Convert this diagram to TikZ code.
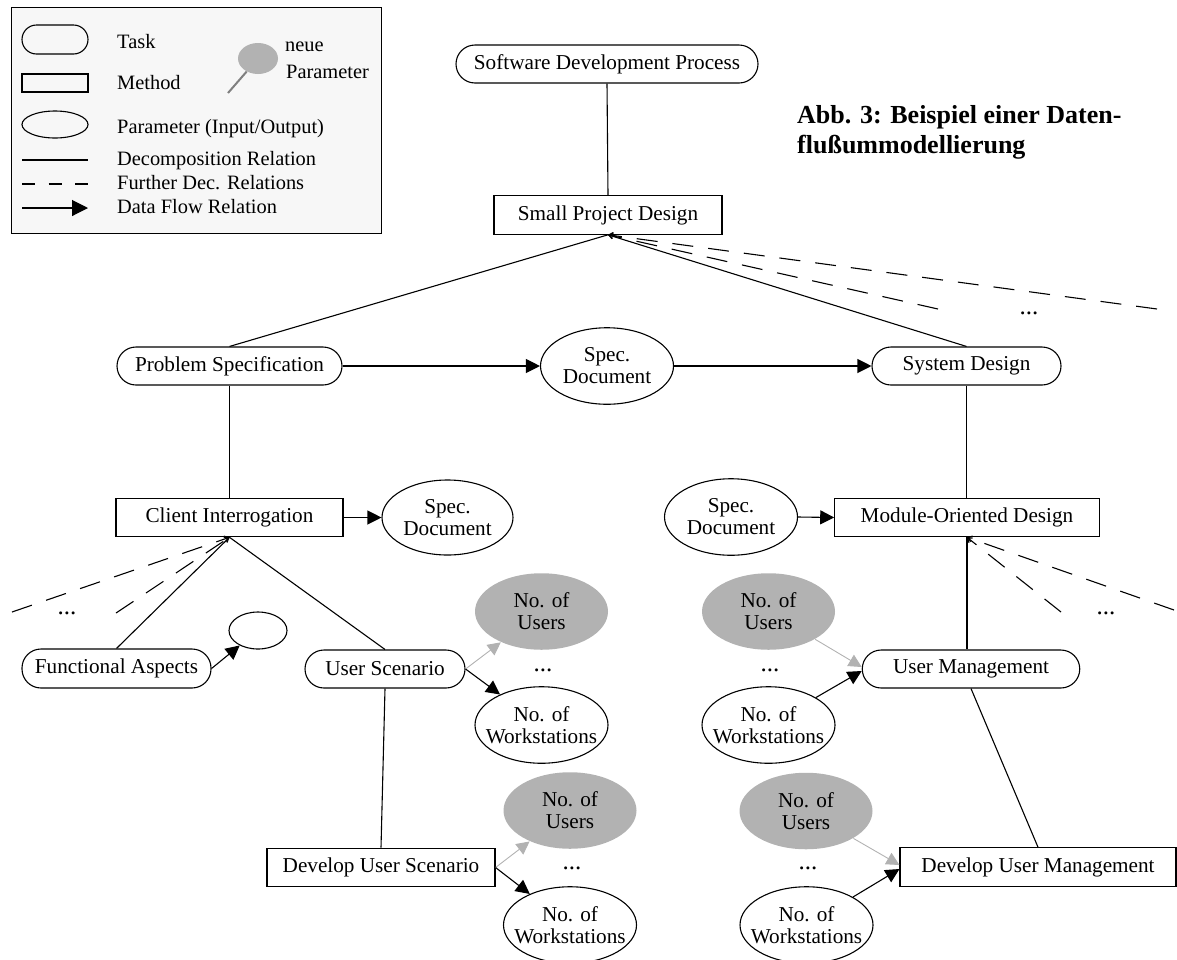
\documentclass[tikz,border=0pt]{standalone}
\usepackage{fontspec}
\setmainfont{Liberation Serif}
\usetikzlibrary{arrows.meta,shapes.geometric}
\begin{document}
\begin{tikzpicture}[x=1pt, y=-1pt,
  every node/.style={font=\fontsize{21.2}{22}\selectfont},
  task/.style={draw, line width=1.1pt, rectangle, rounded corners=19pt, minimum height=38pt, inner sep=0pt},
  method/.style={draw, line width=1.1pt, rectangle, minimum height=38.5pt, inner sep=0pt},
  param/.style={draw, line width=1.1pt, ellipse, align=center, inner xsep=-40pt, inner ysep=-20pt,
                minimum width=133pt, minimum height=76.5pt},
  newparam/.style={param, draw=none, fill=black!30},
  decomp/.style={line width=1.1pt},
  further/.style={line width=1.1pt, dash pattern=on 21pt off 15pt, -{Straight Barb[length=4pt,width=6pt]}},
  flow/.style={line width=1.1pt, -{Triangle[length=14pt,width=14pt]}},
  newflow/.style={line width=0.9pt, draw=black!30, -{Triangle[length=13pt,width=13pt]}},
  dots/.style={inner sep=0pt, font=\fontsize{25}{25}\selectfont},
  legtext/.style={anchor=west, inner sep=0pt, font=\fontsize{20.4}{22}\selectfont, text height=0.68em, text depth=0.2em},
]
\useasboundingbox (0,0) rectangle (1177,959);

% ---------- legend ----------
\draw[line width=1pt, fill=black!3] (11,7) rectangle (381,233);
\node[task, minimum width=66pt, minimum height=29pt, rounded corners=14.5pt] (lgTask) at (55,39.5) {};
\node[method, minimum width=66pt, minimum height=18pt] (lgMethod) at (55,83) {};
\node[draw, line width=1.1pt, ellipse, inner sep=0pt, minimum width=66pt, minimum height=27pt] (lgParam) at (55,124.5) {};
\node[fill=black!30, ellipse, inner sep=0pt, minimum width=40pt, minimum height=31pt] (lgNew) at (258,58.5) {};
\coordinate (lgStick) at (228,93);
\draw[line width=2pt, black!50] (lgStick) -- (lgNew);
\coordinate (lgDecA) at (22,160);  \coordinate (lgDecB) at (88,160);
\coordinate (lgFurA) at (22,184);  \coordinate (lgFurB) at (88,184);
\coordinate (lgFlowA) at (22,208); \coordinate (lgFlowB) at (88,208);
\draw[decomp] (lgDecA) -- (lgDecB);
\draw[line width=1.1pt, dash pattern=on 13pt off 13.5pt] (lgFurA) -- (lgFurB);
\draw[line width=1.1pt, -{Triangle[length=16pt,width=16pt]}] (lgFlowA) -- (lgFlowB);
\node[legtext] (ltTask)   at (117,46)  {Task};
\node[legtext] (ltMethod) at (117,87)  {Method};
\node[legtext] (ltParam)  at (117,131) {Parameter (Input/Output)};
\node[legtext] (ltDec)    at (117,163) {Decomposition Relation};
\node[legtext] (ltFur)    at (117,187) {Further Dec. Relations};
\node[legtext] (ltFlow)   at (117,211) {Data Flow Relation};
\node[legtext] (ltNeue)   at (285,49)  {neue};
\node[legtext] (ltPar)    at (286,76)  {Parameter};

% ---------- caption ----------
\node[anchor=west, align=left, inner sep=0pt, font=\fontsize{26}{30}\selectfont\bfseries] (title)
  at (797,132) {Abb. 3: Beispiel einer Daten-\\flußummodellierung};

% ---------- tasks and methods ----------
\node[task, minimum width=302pt] (SDP) at (607,64) {Software Development Process};
\node[method, minimum width=228pt] (SPD) at (608,215) {Small Project Design};
\node[task, minimum width=225pt] (PS) at (229.5,366) {Problem Specification};
\node[task, minimum width=189pt] (SD) at (966.5,366) {System Design};
\node[method, minimum width=227pt] (CI) at (229.5,517.5) {Client Interrogation};
\node[method, minimum width=264.5pt] (MOD) at (967,517.5) {Module-Oriented Design};
\node[task, minimum width=189pt, minimum height=39pt] (FA) at (116.5,668.5) {Functional Aspects};
\node[task, minimum width=160pt] (US) at (385,669) {User Scenario};
\node[task, minimum width=217.5pt] (UM) at (971,669) {User Management};
\node[method, minimum width=228pt] (DUS) at (381,867.5) {Develop User Scenario};
\node[method, minimum width=276pt] (DUM) at (1038,867) {Develop User Management};

% ---------- parameters ----------
\node[param] (sdMid) at (607,366) {Spec.\\Document};
\node[param, minimum width=131pt, minimum height=75pt] (sdCI) at (447.5,517.5) {Spec.\\Document};
\node[param] (sdMOD) at (731,517) {Spec.\\Document};
\node[draw, line width=1.1pt, ellipse, inner sep=0pt, minimum width=58pt, minimum height=37pt] (blank) at (258,630.5) {};
\node[newparam] (nu1) at (541.5,611.5) {No. of\\Users};
\node[param] (nw1) at (541.5,725) {No. of\\Workstations};
\node[newparam] (nu2) at (768.5,611.5) {No. of\\Users};
\node[param] (nw2) at (768.5,725) {No. of\\Workstations};
\node[newparam] (nu3) at (570,810.5) {No. of\\Users};
\node[param] (nw3) at (570,925) {No. of\\Workstations};
\node[newparam] (nu4) at (806,811) {No. of\\Users};
\node[param] (nw4) at (806.5,925) {No. of\\Workstations};

% ---------- ellipsis marks ----------
\node[dots] (dSPD) at (1029,313) {...};
\node[dots] (dCI)  at (67,613)   {...};
\node[dots] (dMOD) at (1106,613) {...};
\node[dots] (dUS)  at (543,670)  {...};
\node[dots] (dUM)  at (770,670)  {...};
\node[dots] (dDUS) at (572,868)  {...};
\node[dots] (dDUM) at (808,868)  {...};

% ---------- decomposition relations ----------
\draw[decomp] (SDP.south) -- (SPD.north);
\draw[decomp] (SPD.south) -- (PS.north);
\draw[decomp] (SPD.south) -- (SD.north);
\draw[decomp] (PS.south) -- (CI.north);
\draw[decomp] (SD.south) -- (SD.south |- MOD.north);
\draw[decomp] (CI.south) -- (FA.north);
\draw[decomp] (CI.south) -- (US.north);
\draw[decomp] (MOD.south) -- (MOD.south |- UM.north);
\draw[decomp] (US.south) -- (DUS.north);
\draw[decomp] (UM.south) -- (DUM.north);

% ---------- further decomposition relations ----------
\coordinate (spdA) at (1157,309);
\coordinate (spdB) at (938,309);
\coordinate (ciA)  at (12,612);
\coordinate (ciB)  at (116,613);
\coordinate (modA) at (1174,610);
\coordinate (modB) at (1061,612);
\draw[further] (spdA) -- (SPD.south);
\draw[further] (spdB) -- (SPD.south);
\draw[further] (ciA) -- (CI.south);
\draw[further] (ciB) -- (CI.south);
\draw[further] (modA) -- (MOD.south);
\draw[further] (modB) -- (MOD.south);

% ---------- data flow relations ----------
\draw[flow] (PS.east) -- (sdMid.west);
\draw[flow] (sdMid.east) -- (SD.west);
\draw[flow] (CI.east) -- (sdCI.west);
\draw[flow] (sdMOD.east) -- (MOD.west);
\draw[flow] (FA.east) -- (blank);
\draw[newflow] (US.east) -- (nu1);
\draw[flow] (US.east) -- (nw1);
\draw[newflow] (nu2) -- ([yshift=2pt]UM.west);
\draw[flow] (nw2) -- ([yshift=-2pt]UM.west);
\draw[newflow] (DUS.east) -- (nu3);
\draw[flow] (DUS.east) -- (nw3);
\draw[newflow] (nu4) -- ([yshift=2pt]DUM.west);
\draw[flow] (nw4) -- ([yshift=-2pt]DUM.west);
\end{tikzpicture}
\end{document}
